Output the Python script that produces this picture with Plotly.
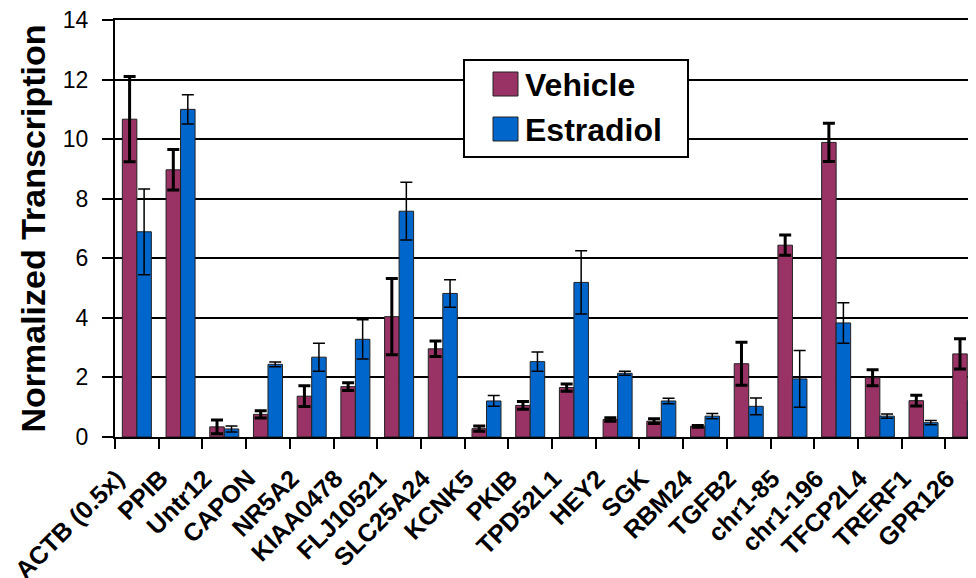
import plotly.graph_objects as go

genes = ["ACTB (0.5x)", "PPIB", "Untr12", "CAPON", "NR5A2", "KIAA0478", "FLJ10521",
         "SLC25A24", "KCNK5", "PKIB", "TPD52L1", "HEY2", "SGK", "RBM24", "TGFB2",
         "chr1-85", "chr1-196", "TFCP2L4", "TRERF1", "GPR126"]

vehicle = [10.67, 8.97, 0.34, 0.76, 1.37, 1.69, 4.04, 2.96, 0.28, 1.06,
           1.66, 0.59, 0.53, 0.36, 2.46, 6.44, 9.89, 1.99, 1.22, 2.79]
vehicle_err = [1.43, 0.68, 0.23, 0.12, 0.35, 0.13, 1.28, 0.26, 0.09, 0.13,
               0.12, 0.06, 0.08, 0.03, 0.72, 0.34, 0.64, 0.27, 0.18, 0.51]

estradiol = [6.89, 11.0, 0.27, 2.44, 2.68, 3.28, 7.58, 4.82, 1.21, 2.53,
             5.19, 2.14, 1.21, 0.70, 1.03, 1.95, 3.83, 0.70, 0.48, 1.21]
estradiol_err = [1.44, 0.49, 0.10, 0.08, 0.47, 0.66, 0.97, 0.46, 0.18, 0.32,
                 1.06, 0.07, 0.09, 0.09, 0.28, 0.95, 0.68, 0.07, 0.07, 0.14]

series_names = ["Vehicle", "Estradiol"]
series_colors = ["#993366", "#0066CC"]

font_family = "Arial, Liberation Sans, sans-serif"

fig = go.Figure()
fig.add_trace(go.Bar(
    x=genes, y=vehicle, name=series_names[0],
    marker=dict(color=series_colors[0], line=dict(color="#222222", width=1)),
    error_y=dict(type="data", array=vehicle_err, color="black", thickness=3, width=6),
))
fig.add_trace(go.Bar(
    x=genes, y=estradiol, name=series_names[1],
    marker=dict(color=series_colors[1], line=dict(color="#222222", width=1)),
    error_y=dict(type="data", array=estradiol_err, color="black", thickness=1.5, width=6),
))

# plot area in window px: x 115..976, y 20..437 -> paper coords for the hand-made legend
def px_x(v):
    return (v - 115) / 861

def px_y(v):
    return (437 - v) / 417

shapes = [dict(type="rect", xref="paper", yref="paper", layer="above",
               x0=px_x(464), x1=px_x(688), y0=px_y(157), y1=px_y(60),
               fillcolor="white", line=dict(color="black", width=2))]
annotations = []
for i, (name, col) in enumerate(zip(series_names, series_colors)):
    top = 72 + i * 45
    shapes.append(dict(type="rect", xref="paper", yref="paper", layer="above",
                       x0=px_x(493), x1=px_x(518), y0=px_y(top + 24), y1=px_y(top),
                       fillcolor=col, line=dict(color="#222222", width=1)))
    annotations.append(dict(text=name, xref="paper", yref="paper",
                            x=px_x(523), y=px_y(top + 13), xanchor="left", yanchor="middle",
                            showarrow=False,
                            font=dict(size=32, family=font_family, weight="bold", color="black")))

# the page body adds an 8px offset, so margins are trimmed by 8
fig.update_layout(
    width=976, height=578,
    barmode="group", bargap=0.336, bargroupgap=0,
    paper_bgcolor="white", plot_bgcolor="white",
    font=dict(family=font_family, color="black"),
    margin=dict(l=107, r=8, t=12, b=149, autoexpand=False),
    showlegend=False,
    shapes=shapes,
    annotations=annotations,
)

fig.update_xaxes(
    type="category", range=[-0.5, 19.2], autorange=False, automargin=False,
    showline=True, mirror=True, linecolor="black", linewidth=2,
    ticks="outside", ticklen=10, tickwidth=2, tickcolor="black",
    tickson="boundaries", tickangle=-45,
    ticklabelshift=-20, ticklabelstandoff=15, ticklabeloverflow="allow",
    tickfont=dict(size=25, family=font_family, weight="bold"),
    showgrid=False,
)
fig.update_yaxes(
    range=[0, 14], dtick=2, autorange=False, automargin=False,
    showline=True, linecolor="black", linewidth=2,
    ticks="outside", ticklen=11, tickwidth=2, tickcolor="black",
    ticklabelstandoff=9, ticklabeloverflow="allow",
    showgrid=True, gridcolor="black", gridwidth=2,
    zeroline=False,
    tickfont=dict(size=23, family=font_family),
    title=dict(text="Normalized Transcription", standoff=7,
               font=dict(size=34, family=font_family, weight="bold")),
)

fig.write_html("out.html")
